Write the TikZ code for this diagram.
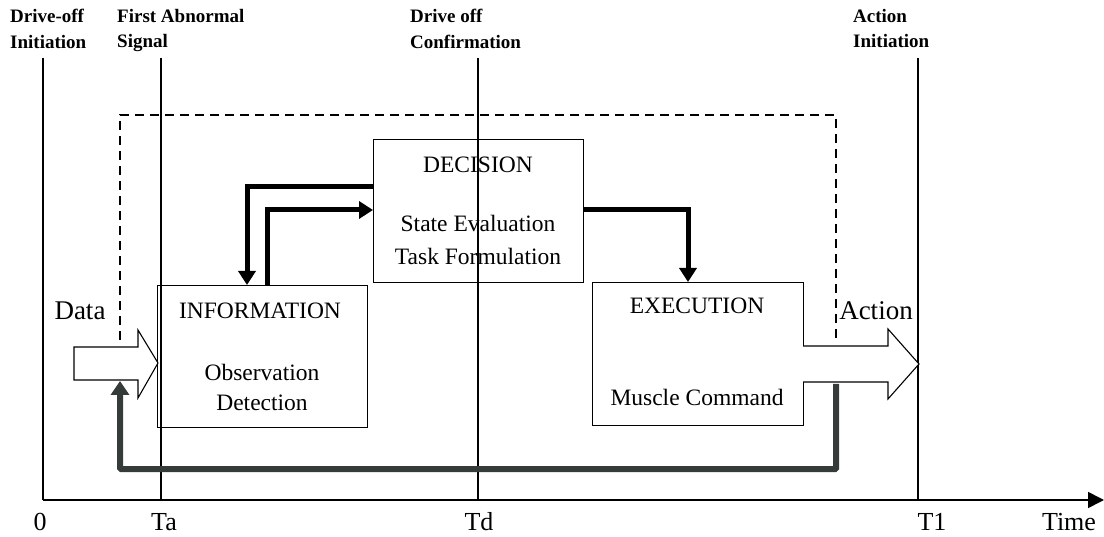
\documentclass[tikz,border=0pt]{standalone}
\usepackage{fontspec}
\setmainfont{Liberation Serif}
\usetikzlibrary{arrows.meta}
\begin{document}
\begin{tikzpicture}[x=1pt,y=-1pt,
  thin line/.style={line width=1.1pt},
  box/.style={draw, thin line, inner sep=0pt, anchor=north west},
  flow/.style={line width=5pt, -{Triangle[length=14pt,width=17pt]}},
  fb/.style={line width=6pt, draw=fbgray, -{Triangle[length=14pt,width=18pt]}},
  toplabel/.style={font=\fontsize{19}{25.5}\selectfont\bfseries, align=left, anchor=north west, inner sep=0pt},
  boxtext/.style={font=\fontsize{23.5}{30}\selectfont, inner sep=0pt},
  axislabel/.style={font=\fontsize{26}{30}\selectfont, inner sep=0pt},
  bigtext/.style={font=\fontsize{27}{32}\selectfont, inner sep=0pt}
]
\definecolor{fbgray}{HTML}{353B38}
\useasboundingbox (0,0) rectangle (1104,537);

% time lines
\coordinate (v0t) at (43,58);  \coordinate (v0b) at (43,500);
\coordinate (vat) at (161,58); \coordinate (vab) at (161,500);
\coordinate (vdt) at (478,58); \coordinate (vdb) at (478,500);
\coordinate (v1t) at (918,58); \coordinate (v1b) at (918,500);
\draw[thin line] (v0t) -- (v0b);
\draw[thin line] (vat) -- (vab);
\draw[thin line] (vdt) -- (vdb);
\draw[thin line] (v1t) -- (v1b);
\coordinate (axs) at (43,500); \coordinate (axe) at (1104,500);
\draw[line width=1.6pt, -{Triangle[length=16pt,width=16pt]}] (axs) -- (axe);

% top labels
\node[toplabel] (l0) at (10,9) {Drive-off\\Initiation};
\node[toplabel] (la) at (117,9) {First Abnormal\\Signal};
\node[toplabel] (ld) at (410,9) {Drive off\\Confirmation};
\node[toplabel] (l1) at (853,9) {Action\\Initiation};

% bottom labels
\node[axislabel] (t0) at (40,522) {0};
\node[axislabel] (ta) at (164,522) {Ta};
\node[axislabel] (td) at (479,522) {Td};
\node[axislabel] (t1) at (932,522) {T1};
\node[axislabel] (tt) at (1069,522) {Time};

% dashed frame
\coordinate (dl) at (120,340); \coordinate (dtl) at (120,115);
\coordinate (dtr) at (836,115); \coordinate (dr) at (836,340);
\draw[line width=2pt, dash pattern=on 9pt off 6pt] (dl) -- (dtl) -- (dtr) -- (dr);

% boxes
\node[box, minimum width=210pt, minimum height=142pt] (info) at (157,285) {};
\node[box, minimum width=210pt, minimum height=143pt] (dec) at (373,139) {};
\node[box, minimum width=211pt, minimum height=143pt] (exe) at (592,282) {};

\node[boxtext] (infot) at (260,311) {INFORMATION};
\node[boxtext] (infos) at (262,372) {Observation};
\node[boxtext] (infod) at (262,403) {Detection};
\node[boxtext] (dect) at (478,165) {DECISION};
\node[boxtext] (decs) at (478,223) {State Evaluation};
\node[boxtext] (decf) at (478,256) {Task Formulation};
\node[boxtext] (exet) at (697,306) {EXECUTION};
\node[boxtext] (exem) at (697,397) {Muscle Command};

% Data and Action block arrows
\draw[thin line, fill=white] (74,347) -- (138,347) -- (138,330) -- (158,363) -- (138,398) -- (138,380) -- (74,380) -- cycle;
\draw[thin line, fill=white] (803,346) -- (888,346) -- (888,329) -- (919,364) -- (888,399) -- (888,382) -- (803,382);
\node[bigtext] (data) at (80,311) {Data};
\node[bigtext] (act) at (876,311) {Action};

% flow arrows
\draw[flow] (dec.west |- 0,187) -| (info.north -| 247,0);
\draw[flow] (info.north -| 267,0) |- (dec.west |- 0,210);
\draw[flow] (dec.east |- 0,210) -| (exe.north -| 688,0);

% feedback
\coordinate (fbs) at (836,384);
\coordinate (fbe) at (120,381);
\draw[fb, rounded corners=1pt] (fbs) |- (120,469) -- (fbe);
\end{tikzpicture}
\end{document}
